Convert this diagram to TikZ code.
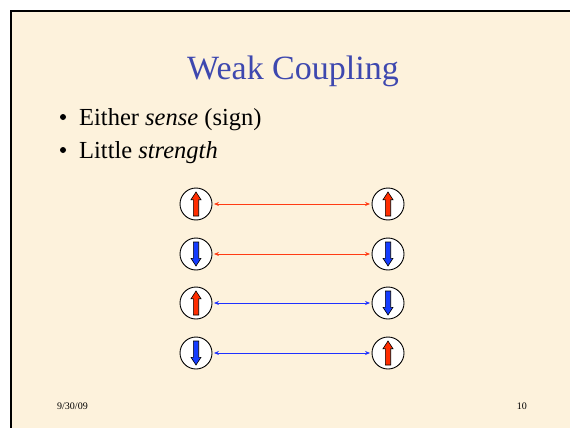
\documentclass[tikz,border=0pt]{standalone}
\usepackage{fontspec}
\setmainfont{Liberation Serif}
\usetikzlibrary{arrows.meta}
\definecolor{parch}{RGB}{253,242,220}
\definecolor{titleblue}{RGB}{62,72,175}
\definecolor{spinred}{RGB}{255,45,0}
\definecolor{spinblue}{RGB}{20,60,255}
\definecolor{linkred}{RGB}{255,60,20}
\definecolor{linkblue}{RGB}{30,50,255}
\tikzset{
  spin/.style={circle, draw=black, line width=0.9pt, fill=white, minimum size=32pt, inner sep=0pt},
  link/.style={line width=0.7pt, {Stealth[length=5pt,width=4pt]}-{Stealth[length=5pt,width=4pt]}, shorten >=1.5pt, shorten <=1.5pt},
  blk/.style={draw=black, line width=0.6pt},
  bul/.style={circle, fill=black, minimum size=6pt, inner sep=0pt},
  btext/.style={anchor=base west, font=\fontsize{24.5}{28}\selectfont, inner sep=0pt},
}
\newcommand{\uparr}[2]{\draw[blk, fill=#2, shift={(#1)}] (0,-12) -- (5,-4.3) -- (2.7,-4.3) -- (2.7,12) -- (-2.7,12) -- (-2.7,-4.3) -- (-5,-4.3) -- cycle;}
\newcommand{\downarr}[2]{\draw[blk, fill=#2, shift={(#1)}] (0,12) -- (5,4.3) -- (2.7,4.3) -- (2.7,-12) -- (-2.7,-12) -- (-2.7,4.3) -- (-5,4.3) -- cycle;}
\begin{document}
\begin{tikzpicture}[x=1pt, y=-1pt]
\useasboundingbox (0,0) rectangle (570,428);
\fill[white] (0,0) rectangle (570,428);
\begin{scope}
\clip (0,0) rectangle (570,428);
\fill[parch] (11,11) rectangle (580,440);
\draw[line width=2.6pt, black] (11,440) -- (11,11) -- (580,11);
\end{scope}
% title
\node[anchor=base, font=\fontsize{34}{40}\selectfont, text=titleblue] (title) at (293,80) {Weak Coupling};
% bullets
\node[bul] (d1) at (63,117) {};
\node[btext] (b1) at (79,125) {Either \textit{sense} (sign)};
\node[bul] (d2) at (63,150) {};
\node[btext] (b2) at (79,158) {Little \textit{strength}};
% spins
\foreach \i/\y in {1/204,2/254,3/303,4/353}{
  \node[spin] (l\i) at (196,\y) {};
  \node[spin] (r\i) at (388,\y) {};
}
\uparr{l1}{spinred}
\uparr{r1}{spinred}
\downarr{l2}{spinblue}
\downarr{r2}{spinblue}
\uparr{l3}{spinred}
\downarr{r3}{spinblue}
\downarr{l4}{spinblue}
\uparr{r4}{spinred}
\draw[link, linkred] (l1) -- (r1);
\draw[link, linkred] (l2) -- (r2);
\draw[link, linkblue] (l3) -- (r3);
\draw[link, linkblue] (l4) -- (r4);
% footer
\node[anchor=base west, font=\fontsize{10}{12}\selectfont, inner sep=0pt] (date) at (57,409) {9/30/09};
\node[anchor=base east, font=\fontsize{10}{12}\selectfont, inner sep=0pt] (num) at (527,409) {10};
\end{tikzpicture}
\end{document}
